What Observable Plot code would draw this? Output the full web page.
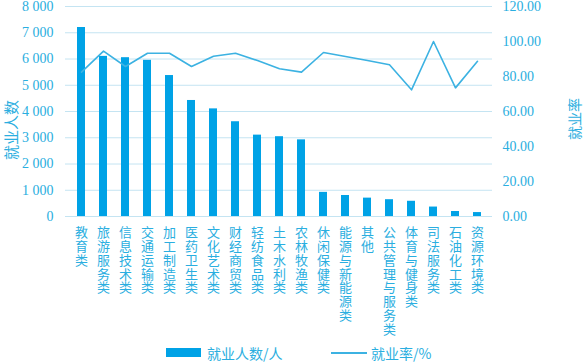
<!DOCTYPE html>
<html><head><meta charset="utf-8">
<script src="https://cdn.jsdelivr.net/npm/d3@7"></script>
<script src="https://cdn.jsdelivr.net/npm/@observablehq/plot@0.6"></script>
<style>
body{margin:0;background:#fff;font-family:"Liberation Serif","Noto Sans CJK SC",serif;}
#wrap{position:relative;width:583px;height:362px;}
.lg{position:absolute;top:344px;font-size:14px;color:#2aaee0;line-height:18px;font-family:"Noto Sans CJK SC",sans-serif;}
.ttl{position:absolute;color:#2aaee0;font-family:"Noto Sans CJK SC",sans-serif;white-space:nowrap;line-height:1;transform:translate(-50%,-50%) rotate(-90deg);}
#chart svg [aria-label="y-axis tick label"] text, #chart svg [aria-label="y-axis tick label"]{font-family:"Liberation Serif","DejaVu Serif",serif !important;}
#chart svg [aria-label="x-axis tick label"] text{writing-mode:vertical-rl;text-orientation:upright;letter-spacing:0.8px;}
</style></head>
<body><div id="wrap"><div id="chart"></div>
<div class="ttl" style="left:10px;top:130px;font-size:15px;">就业人数</div>
<div class="ttl" style="left:574px;top:119px;font-size:14px;">就业率</div>
<div class="lg" style="left:166px;top:348px;width:35px;height:9px;background:#00a2e6;"></div>
<div class="lg" style="left:207px;">就业人数/人</div>
<div class="lg" style="left:331px;top:352px;width:36px;height:1.5px;background:#3cb2e2;"></div>
<div class="lg" style="left:371px;">就业率/%</div>
</div>
<script>
const categories = ["教育类","旅游服务类","信息技术类","交通运输类","加工制造类","医药卫生类","文化艺术类","财经商贸类","轻纺食品类","土木水利类","农林牧渔类","休闲保健类","能源与新能源类","其他","公共管理与服务类","体育与健身类","司法服务类","石油化工类","资源环境类"];
const employed = [7200,6100,6050,5950,5370,4420,4100,3610,3100,3040,2920,920,800,700,640,580,360,190,150];
const rate = [82.5,94.5,85.7,93.3,93.3,85.7,91.6,93.3,89.1,84.4,82.5,93.7,91.4,89.1,86.7,72.4,100,73.5,88.7];
const leftTicks = [0,1000,2000,3000,4000,5000,6000,7000,8000];
const rightTicks = [0,20,40,60,80,100,120];

const k = 8000/120;
const data = categories.map((c,i)=>({c, n: employed[i], r: rate[i]}));
const txt = "#2aaee0";
const serif = '"Liberation Serif","DejaVu Serif",serif';
const cjk = '"Noto Sans CJK SC",sans-serif';
const fmtL = d => d3.format(",")(d).replace(/,/g," ");

const plot = Plot.plot({
  width: 583, height: 340,
  marginLeft: 65, marginRight: 91, marginTop: 6, marginBottom: 124,
  style: {fontFamily: serif, color: txt, background: "#fff"},
  x: {domain: categories, paddingInner: 0.65, paddingOuter: 0.38, align: 0.5},
  y: {domain: [0, 8000]},
  marks: [
    Plot.gridY(leftTicks, {stroke: "#c4e4f2", strokeOpacity: 1, strokeWidth: 1}),
    Plot.barY(data, {x: "c", y: "n", fill: "#00a2e6"}),
    Plot.line(data, {x: "c", y: d => d.r * k, stroke: "#3cb2e2", strokeWidth: 1.6}),
    Plot.axisX({tickSize: 0, tickPadding: 0, fontSize: 13, textAnchor: "start",
      label: null, fontFamily: cjk, fill: txt}),
    Plot.axisY(leftTicks, {anchor: "left", tickSize: 0, tickPadding: 12, fontSize: 14, tickFormat: fmtL,
      label: null, fill: txt, fontFamily: serif}),
    Plot.axisY(rightTicks.map(r => r * k), {anchor: "right", tickSize: 0, tickPadding: 10, fontSize: 14,
      tickFormat: d => (d / k).toFixed(2), label: null, fill: txt, fontFamily: serif})
  ]
});
document.getElementById("chart").appendChild(plot);
</script></body></html>
